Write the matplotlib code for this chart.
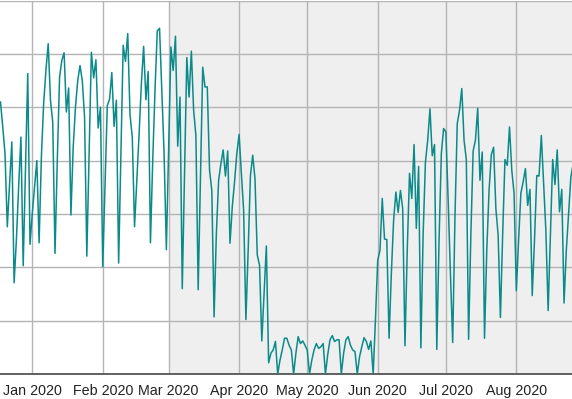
import pandas as pd
import matplotlib
matplotlib.use("Agg")
import matplotlib.pyplot as plt
import matplotlib.dates as mdates

# daily values (one gridline = 10 units)
start_date = "2019-12-17"
values = [
    50.0, 51.0, 46.3, 41.3, 27.6, 35.7, 43.5, 17.1, 25.1, 35.1, 44.4, 20.3, 38.2, 56.3, 24.3,  # Dec 17-31
    30.1, 35.1, 40.0, 24.6, 40.7, 50.7, 56.9, 61.9, 51.3, 47.2, 22.6, 40.0, 55.6, 58.8, 60.2,  # Jan 1-15
    49.1, 53.6, 29.8, 42.5, 50.0, 55.0, 57.8, 55.0, 48.2, 22.1, 41.3, 60.3, 55.5, 58.9, 46.1, 50.0,  # Jan 16-31
    20.1, 35.1, 50.3, 51.5, 56.5, 46.4, 51.3, 20.8, 41.3, 61.6, 58.6, 63.8, 48.6, 44.4, 27.6,  # Feb 1-15
    36.3, 45.0, 54.4, 61.4, 51.4, 56.7, 24.6, 40.0, 53.2, 64.3, 64.8, 53.2, 41.3, 23.3,  # Feb 16-29
    42.5, 61.3, 56.9, 63.3, 42.7, 51.9, 16.0, 37.6, 59.3, 51.9, 60.5, 49.4, 44.7, 15.8, 36.9,  # Mar 1-15
    57.5, 53.8, 53.8, 38.2, 34.4, 10.7, 26.3, 36.3, 39.4, 42.0, 37.1, 41.8, 24.5, 31.3, 36.0, 41.3,  # Mar 16-31
    44.9, 37.6, 30.7, 10.2, 23.2, 37.2, 41.0, 36.6, 22.3, 20.4, 6.2, 15.1, 24.0, 2.1, 3.9,  # Apr 1-15
    4.5, 6.1, 0.0, 2.6, 4.5, 6.7, 6.7, 5.4, 4.5, 0.0, 3.9, 7.0, 5.7, 6.2, 5.4,  # Apr 16-30
    4.5, 0.0, 2.6, 4.5, 5.7, 4.8, 5.1, 5.7, 0.0, 3.6, 6.4, 7.2, 6.1, 6.4, 6.4,  # May 1-15
    0.0, 3.9, 6.4, 7.0, 5.4, 4.5, 4.2, 0.0, 3.2, 5.1, 6.8, 6.1, 4.6, 6.2, 0.0, 10.1,  # May 16-31
    21.3, 23.2, 32.9, 25.3, 25.2, 6.7, 18.8, 28.8, 34.1, 30.3, 34.4, 31.0, 5.3, 23.2, 37.6,  # Jun 1-15
    32.9, 43.0, 27.3, 38.9, 4.9, 26.3, 39.7, 43.8, 49.7, 40.9, 43.0, 4.6, 25.1, 41.3, 46.0,  # Jun 16-30
    45.4, 32.6, 18.8, 5.9, 29.4, 46.9, 49.4, 53.5, 43.8, 40.2, 6.5, 26.3, 41.8, 43.8, 49.8,  # Jul 1-15
    36.3, 41.6, 6.7, 23.2, 34.4, 41.1, 42.5, 31.0, 26.0, 10.6, 26.3, 40.2, 39.1, 46.3, 38.2, 33.9,  # Jul 16-31
    15.6, 25.1, 33.9, 36.0, 38.5, 31.6, 34.6, 14.7, 25.1, 37.2, 37.1, 44.7, 35.7, 26.9, 11.9,  # Aug 1-15
    26.3, 40.2, 35.5, 42.0, 30.4, 34.6, 13.3, 23.2, 30.1, 36.9, 39.4,  # Aug 16-26
]
dates = pd.date_range(start_date, periods=len(values), freq="D")

shade_start = pd.Timestamp("2020-03-01")
x_min = pd.Timestamp("2019-12-17 19:00")
x_max = pd.Timestamp("2020-08-25 12:00")

fig = plt.figure(figsize=(5.72, 3.99), dpi=100)
ax = fig.add_axes([0, 25 / 399, 1, 373.5 / 399])

ax.axvspan(shade_start, pd.Timestamp("2020-12-31"), color="#efefef", zorder=0, lw=0)
ax.plot(dates, values, color="#0b8a8a", linewidth=1.1, zorder=3)

ax.set_xlim(x_min, x_max)
ax.set_ylim(0, 70)
ax.set_yticks(range(0, 71, 10))
ax.yaxis.set_tick_params(length=0, labelleft=False)

ax.xaxis.set_major_locator(mdates.MonthLocator())
ax.xaxis.set_major_formatter(mdates.DateFormatter("%b %Y"))
ax.tick_params(axis="x", length=0, pad=7, labelsize=10.3, labelcolor="#222222")
for lbl in ax.get_xticklabels():
    lbl.set_fontfamily("Liberation Sans")

ax.grid(True, color="#b4b4b4", linewidth=1.0, zorder=1)
ax.set_axisbelow(True)
for side in ["left", "right", "top"]:
    ax.spines[side].set_visible(False)
ax.spines["bottom"].set_color("#555555")
ax.spines["bottom"].set_linewidth(1.3)
ax.set_facecolor("white")

fig.savefig("out.png", dpi=100)
